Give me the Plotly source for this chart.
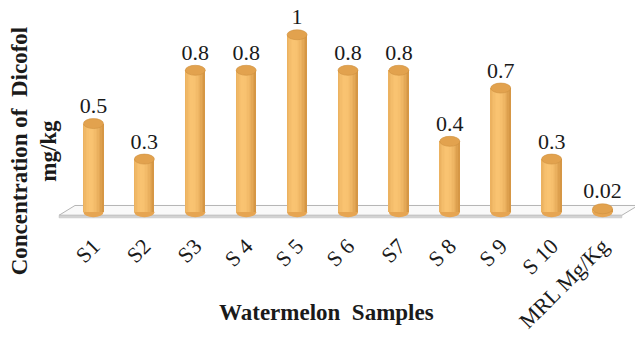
import plotly.graph_objects as go

categories = ["S1", "S2", "S3", "S 4", "S 5", "S 6", "S7", "S 8", "S 9", "S 10", "MRL Mg/Kg"]
values = [0.5, 0.3, 0.8, 0.8, 1.0, 0.8, 0.8, 0.4, 0.7, 0.3, 0.02]
labels = ["0.5", "0.3", "0.8", "0.8", "1", "0.8", "0.8", "0.4", "0.7", "0.3", "0.02"]

FONT = "Liberation Serif, Times New Roman, serif"
TXT = "#1a1a1a"

W = 0.393          # cylinder width in category units
N = 14             # vertical strips for shading
CAP = 0.028        # half height of the ellipse caps in data units

def shade(t):
    dark = (210, 146, 64)
    light = (250, 196, 114)
    d = abs(t - 0.38) / 0.62
    k = max(0.0, 1 - d ** 1.8)
    c = [int(dark[i] + (light[i] - dark[i]) * k) for i in range(3)]
    return "rgb(%d,%d,%d)" % tuple(c)

fig = go.Figure()
for k in range(N):
    t = (k + 0.5) / N
    fig.add_trace(go.Bar(
        x=categories, y=values, width=W / N, offset=-W / 2 + k * W / N,
        marker=dict(color=shade(t), line=dict(width=0)),
        showlegend=False, hoverinfo="skip"))

fig.add_trace(go.Scatter(
    x=categories, y=[v + CAP for v in values], mode="text", text=labels,
    textposition="top center",
    textfont=dict(family=FONT, size=22, color=TXT),
    showlegend=False, hoverinfo="skip", cliponaxis=False))

shapes = []
# floor (decoration) in paper x / data y
shapes.append(dict(type="path", xref="paper", yref="y",
                   path="M -0.016,-0.0166 L 0.0125,0.0387 L 1.018,0.0387 L 0.989,-0.0166 Z",
                   fillcolor="#f9f9f9", line=dict(color="#b4b4b4", width=1), layer="below"))
shapes.append(dict(type="path", xref="paper", yref="y",
                   path="M -0.016,-0.0166 L 0.989,-0.0166 L 0.989,-0.031 L -0.016,-0.031 Z",
                   fillcolor="#d2d2d2", line=dict(color="#bdbdbd", width=0.5), layer="below"))
# cylinder bottoms and tops
for i, v in enumerate(values):
    shapes.append(dict(type="circle", xref="x", yref="y",
                       x0=i - W / 2, x1=i + W / 2, y0=-CAP, y1=CAP,
                       fillcolor="#e6a552", line=dict(width=0), layer="below"))
    shapes.append(dict(type="circle", xref="x", yref="y",
                       x0=i - W / 2, x1=i + W / 2, y0=v - CAP, y1=v + CAP,
                       fillcolor="#e2a24e", line=dict(color="#cf9040", width=0.6), layer="above"))

fig.update_layout(
    width=635, height=340,
    margin=dict(l=68, r=7, t=17, b=113),
    barmode="overlay", bargap=0,
    plot_bgcolor="white", paper_bgcolor="white",
    shapes=shapes,
    xaxis=dict(range=[-0.5, 10.5], showgrid=False, zeroline=False, showline=False,
               ticks="", tickangle=-45, ticklabelstandoff=5,
               tickfont=dict(family=FONT, size=22, color=TXT)),
    yaxis=dict(range=[-0.06, 1.1], visible=False),
    annotations=[
        dict(text="<b>Concentration of  Dicofol</b><br><b>mg/kg</b>", xref="paper", yref="paper",
             x=-0.06, y=0.35, xanchor="center", yanchor="middle", textangle=-90,
             showarrow=False, font=dict(family=FONT, size=23, color=TXT)),
        dict(text="<b>Watermelon  Samples</b>", xref="paper", yref="paper",
             x=(326 - 68) / 560, y=-(318 - 227) / 210, xanchor="center", yanchor="middle",
             showarrow=False, font=dict(family=FONT, size=23, color=TXT)),
    ],
)

fig.write_html("out.html")
